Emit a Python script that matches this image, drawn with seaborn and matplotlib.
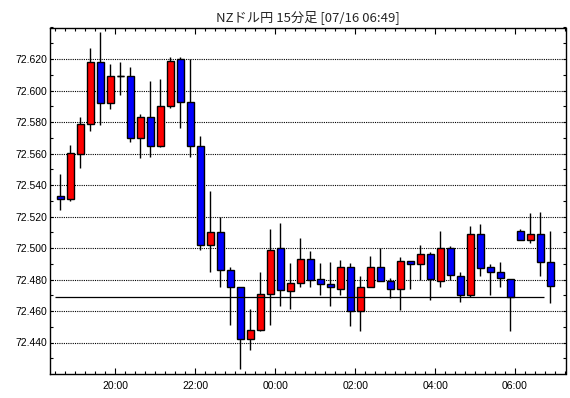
import numpy as np
import matplotlib
matplotlib.use('Agg')
import matplotlib.pyplot as plt
import seaborn as sns
from matplotlib.ticker import FixedLocator, FormatStrFormatter

# 15分足 OHLC (NZドル円) 18:30 ~ 06:45
opens  = [72.533, 72.531, 72.560, 72.579, 72.618, 72.592, 72.609, 72.609, 72.570, 72.583,
          72.565, 72.590, 72.620, 72.593, 72.565, 72.502, 72.510, 72.486, 72.475, 72.4425,
          72.448, 72.471, 72.500, 72.473, 72.478, 72.493, 72.480, 72.477, 72.474, 72.488,
          72.460, 72.475, 72.488, 72.479, 72.474, 72.492, 72.490, 72.496, 72.479, 72.500,
          72.482, 72.470, 72.5086, 72.488, 72.485, 72.4806, 72.511, 72.505, 72.5086, 72.491]
highs  = [72.547, 72.5655, 72.583, 72.627, 72.637, 72.617, 72.618, 72.615, 72.585, 72.606,
          72.607, 72.6215, 72.6215, 72.620, 72.571, 72.536, 72.520, 72.488, 72.475, 72.4615,
          72.485, 72.512, 72.516, 72.4905, 72.5066, 72.498, 72.4905, 72.491, 72.4923, 72.4905,
          72.482, 72.495, 72.500, 72.481, 72.4945, 72.492, 72.502, 72.4975, 72.511, 72.501,
          72.485, 72.514, 72.515, 72.490, 72.491, 72.4806, 72.512, 72.522, 72.523, 72.511]
lows   = [72.524, 72.530, 72.551, 72.574, 72.578, 72.588, 72.597, 72.567, 72.557, 72.558,
          72.564, 72.589, 72.576, 72.558, 72.499, 72.485, 72.475, 72.451, 72.423, 72.435,
          72.447, 72.451, 72.463, 72.461, 72.4755, 72.4755, 72.470, 72.463, 72.470, 72.4506,
          72.447, 72.475, 72.479, 72.468, 72.4606, 72.474, 72.480, 72.4667, 72.4754, 72.480,
          72.466, 72.4686, 72.482, 72.470, 72.475, 72.4476, 72.505, 72.503, 72.4825, 72.465]
closes = [72.531, 72.560, 72.579, 72.618, 72.592, 72.609, 72.609, 72.570, 72.583, 72.565,
          72.590, 72.619, 72.593, 72.565, 72.502, 72.510, 72.486, 72.475, 72.4425, 72.448,
          72.471, 72.499, 72.4735, 72.478, 72.493, 72.480, 72.477, 72.475, 72.488, 72.460,
          72.475, 72.488, 72.479, 72.474, 72.492, 72.490, 72.496, 72.4806, 72.500, 72.483,
          72.470, 72.5086, 72.4876, 72.485, 72.481, 72.4686, 72.505, 72.5086, 72.491, 72.4756]
current_rate = 72.4687
price_ticks = [72.44, 72.46, 72.48, 72.50, 72.52, 72.54, 72.56, 72.58, 72.60, 72.62]
time_labels = ['20:00', '22:00', '00:00', '02:00', '04:00', '06:00']
title = 'NZドル円 15分足 [07/16 06:49]'

sns.set_style('white')
plt.rcParams['font.family'] = ['Liberation Sans', 'DejaVu Sans']

o = np.array(opens); h = np.array(highs); l = np.array(lows); c = np.array(closes)
idx = np.arange(len(o))

fig = plt.figure(figsize=(5.7, 3.98), dpi=100)
ax = fig.add_axes([49.5/570, 24/398, 516/570, 346.5/398])

# ひげ
ax.vlines(idx, l, h, color='black', lw=1.0, zorder=2)
# 実体
up = c > o
colors = np.where(up, '#ff0000', '#0000ff')
bottom = np.minimum(o, c)
height = np.abs(c - o)
ax.bar(idx, height, bottom=bottom, width=0.7, color=colors, edgecolor='black',
       linewidth=1.0, zorder=3)
doji = height < 1e-6
ax.hlines(o[doji], idx[doji] - 0.35, idx[doji] + 0.35, color='black', lw=1.0, zorder=3)

ax.hlines(current_rate, -0.5, 48.4, color='black', lw=0.9, zorder=4)

ax.set_xlim(-1.1, 50.55)
ax.set_ylim(72.420, 72.640)

ax.yaxis.set_major_locator(FixedLocator(price_ticks))
ax.yaxis.set_minor_locator(FixedLocator(np.arange(72.430, 72.6401, 0.01)))
ax.yaxis.set_major_formatter(FormatStrFormatter('%.3f'))
ax.xaxis.set_major_locator(FixedLocator([5.5 + 8 * k for k in range(len(time_labels))]))
ax.xaxis.set_minor_locator(FixedLocator(np.arange(-0.5, 51, 1.0)))
ax.set_xticklabels(time_labels)

ax.yaxis.grid(True, which='major', color='black', linestyle=(0, (1, 1)), lw=0.8)
ax.xaxis.grid(False)
ax.set_axisbelow(True)

ax.tick_params(axis='both', which='both', direction='in', top=True, bottom=True,
               left=True, right=True, color='black', width=0.8, labelsize=7.5,
               labelcolor='black')
ax.tick_params(axis='x', which='major', length=4, pad=5)
ax.tick_params(axis='x', which='minor', length=2)
ax.tick_params(axis='y', which='both', length=2.5, pad=1.5)

for s in ax.spines.values():
    s.set_color('black')
    s.set_linewidth(1.0)

ax.set_title(title, fontsize=9.5, pad=5, family=['Noto Sans CJK JP', 'DejaVu Sans'])

fig.savefig('out.png', dpi=100, facecolor='white')
